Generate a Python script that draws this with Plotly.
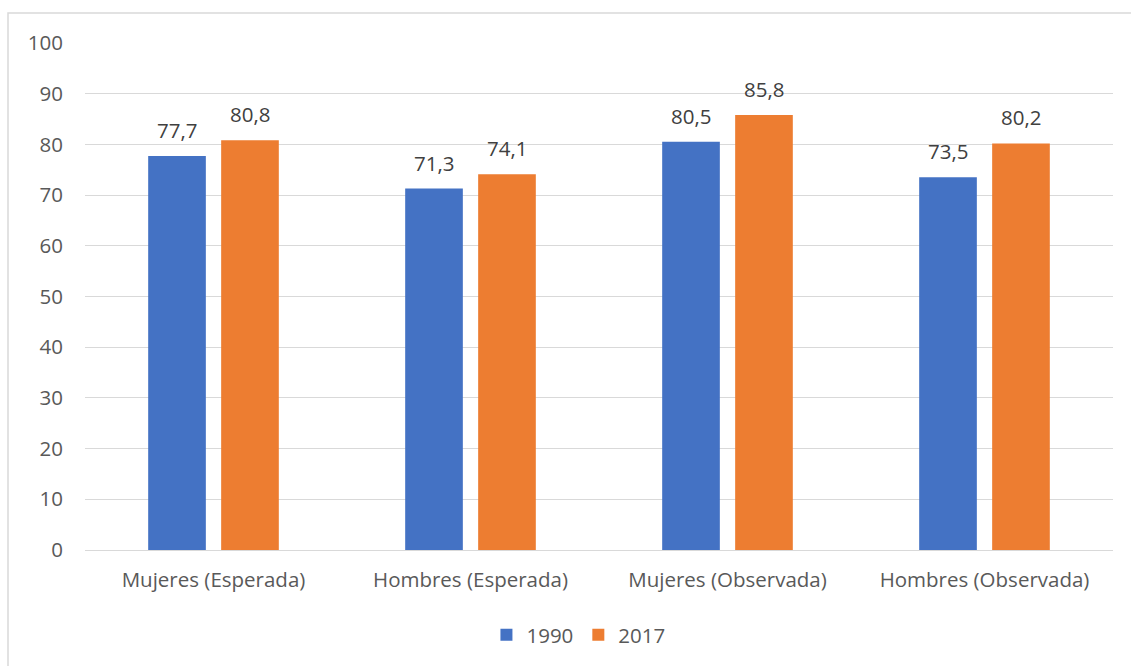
import plotly.graph_objects as go

categories = ["Mujeres (Esperada)", "Hombres (Esperada)", "Mujeres (Observada)", "Hombres (Observada)"]
values_1990 = [77.7, 71.3, 80.5, 73.5]
values_2017 = [80.8, 74.1, 85.8, 80.2]
series_names = ["1990", "2017"]
colors = ["#4472C4", "#ED7D31"]

W, H = 1131, 666
L, R, T, B = 85, 18, 43, 115
pw, ph = W - L - R, H - T - B
FONT = "Open Sans"
FS = 20.5

fig = go.Figure()
for name, vals, col in zip(series_names, [values_1990, values_2017], colors):
    fig.add_trace(go.Bar(
        x=categories, y=vals, name=name, marker=dict(color=col, line=dict(width=0)),
    ))

slot = pw / len(categories) * (1 - 0.432) / 2
annotations = []
for vals, sign in zip([values_1990, values_2017], [-1, 1]):
    for c, v in zip(categories, vals):
        annotations.append(dict(
            x=c, y=v, xref="x", yref="y", text=f"{v:.1f}".replace(".", ","),
            showarrow=False, xanchor="center", yanchor="bottom",
            xshift=sign * slot / 2, yshift=10,
            font=dict(family=FONT, size=FS, color="#404040"),
        ))

fig.update_layout(
    width=W, height=H, autosize=False,
    margin=dict(l=L, r=R, t=T, b=B),
    paper_bgcolor="white", plot_bgcolor="white",
    barmode="group", bargap=0.432, bargroupgap=0.21,
    font=dict(family=FONT, color="#595959", size=FS),
    showlegend=True,
    legend=dict(orientation="h", x=0.48, xanchor="center", y=(551 - 635) / ph, yanchor="middle",
                font=dict(size=FS, color="#595959"), itemwidth=30, traceorder="normal"),
    xaxis=dict(showgrid=False, showline=False, ticks="", ticklabelstandoff=15,
               tickfont=dict(size=FS, color="#595959")),
    yaxis=dict(range=[0, 100], dtick=10, showgrid=True, gridcolor="#D9D9D9", gridwidth=1,
               zeroline=True, zerolinecolor="#D9D9D9", zerolinewidth=1, showline=False,
               ticks="", ticklabelstandoff=21, tickfont=dict(size=FS, color="#595959")),
    annotations=annotations,
    shapes=[dict(type="rect", xref="paper", yref="paper",
                 x0=(8 - L) / pw, x1=(W + 20 - L) / pw,
                 y0=(551 - H - 20) / ph, y1=(551 - 13) / ph,
                 line=dict(color="#D9D9D9", width=1.5), fillcolor="rgba(0,0,0,0)", layer="below")],
)

fig.write_html("out.html")
